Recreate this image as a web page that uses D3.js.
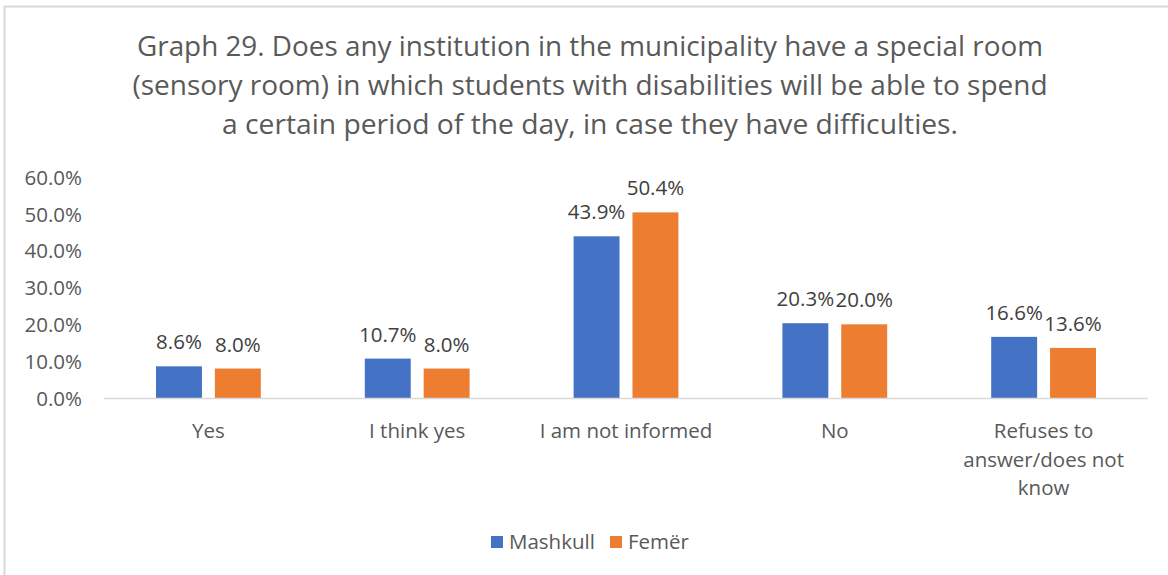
<!DOCTYPE html>
<html>
<head>
<meta charset="utf-8">
<script src="https://cdn.jsdelivr.net/npm/d3@7"></script>
<style>
  html, body { margin: 0; padding: 0; background: #fff; }
  svg { display: block; font-family: "Open Sans", sans-serif; }
</style>
</head>
<body>
<svg id="chart" width="1168" height="575"></svg>
<script>
const titleLines = [
    'Graph 29. Does any institution in the municipality have a special room',
    '(sensory room) in which students with disabilities will be able to spend',
    'a certain period of the day, in case they have difficulties.'
];
const titleWidths = [906, 915, 736];
const categories = [
    ['Yes'],
    ['I think yes'],
    ['I am not informed'],
    ['No'],
    ['Refuses to', 'answer/does not', 'know']
];
const seriesNames = ['Mashkull', 'Femër'];
const seriesColors = ['#4472C4', '#ED7D31'];
const mashkull = [0.086, 0.107, 0.439, 0.203, 0.166];
const femer = [0.080, 0.080, 0.504, 0.200, 0.136];
const yTicks = [0, 0.1, 0.2, 0.3, 0.4, 0.5, 0.6];

const textColor = '#595959';
const fontSize = '20.5px';
const svg = d3.select('#chart');

// chart frame (only left and top edges are visible in the source)
svg.append('rect')
    .attr('x', 4.5)
    .attr('y', 6.5)
    .attr('width', 1180)
    .attr('height', 590)
    .attr('fill', 'none')
    .attr('stroke', '#d9d9d9')
    .attr('stroke-width', 2);

// title
svg.append('g')
    .selectAll('text')
    .data(titleLines)
    .enter()
    .append('text')
    .attr('x', 590)
    .attr('y', (d, i) => 56 + i * 39)
    .attr('text-anchor', 'middle')
    .attr('font-size', '26.5px')
    .attr('fill', textColor)
    .attr('textLength', (d, i) => titleWidths[i])
    .attr('lengthAdjust', 'spacingAndGlyphs')
    .text((d) => d);

const x0 = d3.scaleBand()
    .domain(d3.range(categories.length))
    .range([104, 1148])
    .paddingInner(0)
    .paddingOuter(0);

const x1 = d3.scaleBand()
    .domain([0, 1])
    .range([52, x0.bandwidth() - 52])
    .paddingInner(0.22);

const y = d3.scaleLinear()
    .domain([0, 0.6])
    .range([398, 177]);

const pct = d3.format('.1%');

// y axis labels
const yAxis = svg.append('g')
    .attr('transform', 'translate(88,0)')
    .call(d3.axisLeft(y).tickValues(yTicks).tickFormat(pct).tickSize(0).tickPadding(6));
yAxis.select('.domain').remove();
yAxis.selectAll('text')
    .attr('font-family', '"Open Sans", sans-serif')
    .attr('font-size', fontSize)
    .attr('fill', textColor)
    .attr('dy', '0.35em');

// bars
const rows = categories.map((c, i) => [mashkull[i], femer[i]]);
const groups = svg.append('g')
    .selectAll('g')
    .data(rows)
    .enter()
    .append('g')
    .attr('transform', (d, i) => `translate(${x0(i)},0)`);

groups.selectAll('rect')
    .data((d) => d)
    .enter()
    .append('rect')
    .attr('x', (d, j) => x1(j))
    .attr('y', (d) => y(d))
    .attr('width', x1.bandwidth())
    .attr('height', (d) => y(0) - y(d))
    .attr('fill', (d, j) => seriesColors[j]);

groups.selectAll('text')
    .data((d) => d)
    .enter()
    .append('text')
    .attr('x', (d, j) => x1(j) + x1.bandwidth() / 2)
    .attr('y', (d) => y(d) - 17)
    .attr('text-anchor', 'middle')
    .attr('font-size', fontSize)
    .attr('fill', '#404040')
    .text((d) => pct(d));

// x axis baseline
svg.append('line')
    .attr('x1', 104)
    .attr('x2', 1148)
    .attr('y1', y(0) + 0.5)
    .attr('y2', y(0) + 0.5)
    .attr('stroke', '#d9d9d9')
    .attr('stroke-width', 1.5);

// category labels
const catLabels = svg.append('g')
    .selectAll('text')
    .data(categories)
    .enter()
    .append('text')
    .attr('text-anchor', 'middle')
    .attr('font-size', fontSize)
    .attr('fill', textColor);

catLabels.selectAll('tspan')
    .data((d, i) => d.map((line) => ({ line, i })))
    .enter()
    .append('tspan')
    .attr('x', (d) => x0(d.i) + x0.bandwidth() / 2)
    .attr('y', (d, k) => 438 + k * 28.5)
    .text((d) => d.line);

// legend
const legendX = [491, 610];
const legend = svg.append('g')
    .selectAll('g')
    .data(seriesNames)
    .enter()
    .append('g')
    .attr('transform', (d, i) => `translate(${legendX[i]},536)`);

legend.append('rect')
    .attr('width', 12)
    .attr('height', 12)
    .attr('fill', (d, i) => seriesColors[i]);

legend.append('text')
    .attr('x', 18)
    .attr('y', 13)
    .attr('font-size', fontSize)
    .attr('fill', textColor)
    .text((d) => d);
</script>
</body>
</html>
